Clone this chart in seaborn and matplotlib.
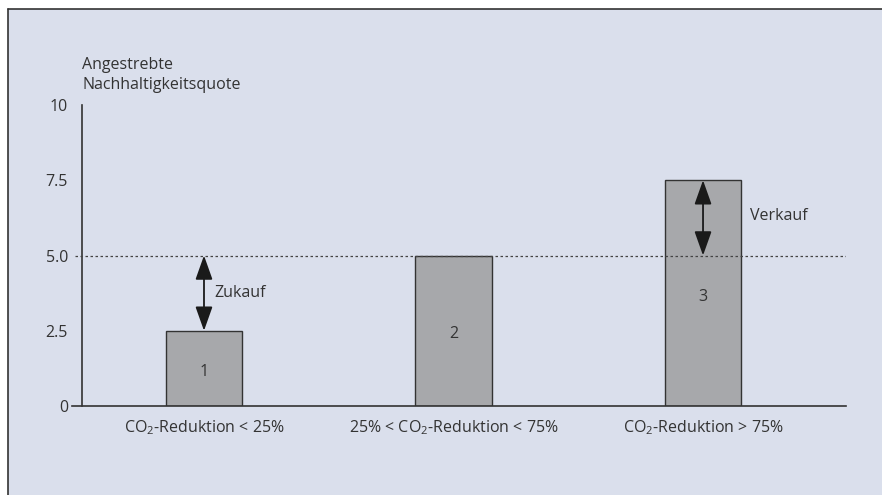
import matplotlib
matplotlib.use("Agg")
import matplotlib.pyplot as plt
import seaborn as sns
import pandas as pd
from matplotlib.patches import Rectangle
from matplotlib.lines import Line2D

# ---- data ----
categories = [r"CO$_\mathrm{2}$-Reduktion < 25%",
              r"25% < CO$_\mathrm{2}$-Reduktion < 75%",
              r"CO$_\mathrm{2}$-Reduktion > 75%"]
values = [2.5, 5.0, 7.5]
bar_labels = ["1", "2", "3"]
target = 5.0
y_ticks = [0, 2.5, 5.0, 7.5, 10]
y_ticklabels = ["0", "2.5", "5.0", "7.5", "10"]
y_title = "Angestrebte\nNachhaltigkeitsquote"
arrow_labels = ["Zukauf", "Verkauf"]

sns.set_theme(style="white")
FONT = "Open Sans"
plt.rcParams["font.family"] = [FONT, "DejaVu Sans"]
plt.rcParams["mathtext.fontset"] = "custom"
plt.rcParams["mathtext.rm"] = FONT
plt.rcParams["mathtext.it"] = FONT + ":italic"
plt.rcParams["mathtext.bf"] = FONT + ":bold"

FS = 11.5
TXT = "#333333"
BG = "#dadfec"
W, H = 882, 495
fig = plt.figure(figsize=(W / 100, H / 100), dpi=100, facecolor="white")

# background panel with top/left frame lines
fig.patches.append(Rectangle((8 / W, 0), 1, (H - 9) / H, transform=fig.transFigure,
                             facecolor=BG, edgecolor="none", zorder=-10))
fig.lines.append(Line2D([8 / W, 1], [(H - 9) / H] * 2, transform=fig.transFigure,
                        color="#333333", lw=1.2, zorder=-5))
fig.lines.append(Line2D([8 / W, 8 / W], [0, (H - 9) / H], transform=fig.transFigure,
                        color="#333333", lw=1.2, zorder=-5))

ax = fig.add_axes([72 / W, (H - 406) / H, 774 / W, 301 / H])
ax.set_facecolor("none")

df = pd.DataFrame({"cat": categories, "val": values})
sns.barplot(data=df, x="cat", y="val", ax=ax, color="#a7a8ab", saturation=1,
            edgecolor="#333333", linewidth=1.0, width=0.305, zorder=2)

ax.set_xlim(-0.529, 2.573)
ax.set_ylim(0, 10)
ax.set_xlabel("")
ax.set_ylabel("")

for s in ["top", "right"]:
    ax.spines[s].set_visible(False)
ax.spines["left"].set_position(("data", -0.489))
ax.spines["left"].set_color("#333333")
ax.spines["left"].set_linewidth(1.2)
ax.spines["bottom"].set_color("#333333")
ax.spines["bottom"].set_linewidth(1.2)

ax.set_yticks(y_ticks)
ax.set_yticklabels(y_ticklabels)
ax.tick_params(axis="y", length=0, pad=10, labelsize=FS, labelcolor=TXT)
ax.tick_params(axis="x", length=0, pad=9, labelsize=FS, labelcolor=TXT)

# target line
ax.axhline(target, color="#444444", lw=0.9, linestyle=(0, (2, 2)), zorder=3,
           xmin=0.004, xmax=1)

# numbers inside bars
for i, (v, lab) in enumerate(zip(values, bar_labels)):
    ax.text(i, v / 2 - 0.12, lab, ha="center", va="center", fontsize=FS, color=TXT, zorder=4)

# arrows
ap = dict(arrowstyle="<|-|>,head_length=0.62,head_width=0.22", color="#1a1a1a", lw=1.3,
          mutation_scale=24, shrinkA=0, shrinkB=0)
ax.annotate("", xy=(0, target), xytext=(0, values[0]), arrowprops=ap, zorder=5)
ax.annotate("", xy=(2, values[2]), xytext=(2, target), arrowprops=ap, zorder=5)
ax.text(0.04, (target + values[0]) / 2, arrow_labels[0], ha="left", va="center",
        fontsize=FS, color=TXT)
ax.text(2.19, 6.3, arrow_labels[1], ha="left", va="center", fontsize=FS, color=TXT)

# axis title
fig.text(82 / W, 1 - 57 / H, y_title, ha="left", va="top", fontsize=FS,
         color=TXT, linespacing=1.35)

fig.savefig("out.png", dpi=100, facecolor="white")
